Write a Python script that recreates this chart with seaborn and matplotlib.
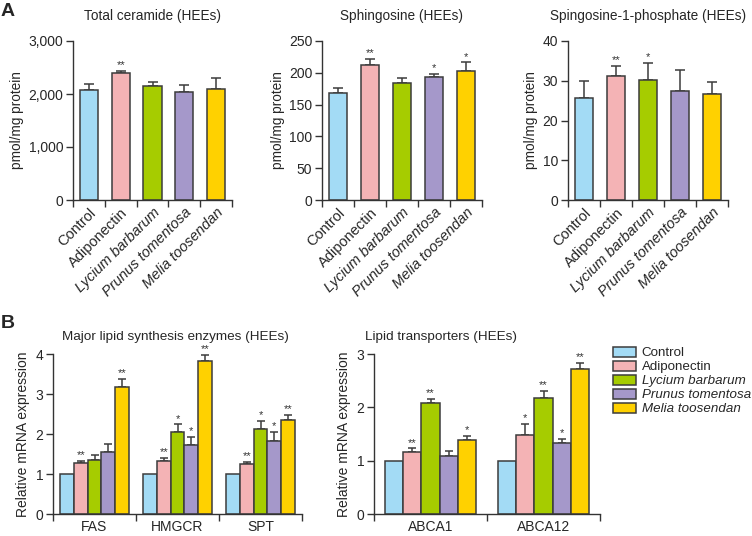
import numpy as np
import pandas as pd
import matplotlib
matplotlib.use('Agg')
import matplotlib.pyplot as plt
import seaborn as sns
from matplotlib.patches import Patch
from matplotlib.container import BarContainer
from matplotlib.ticker import FuncFormatter

groups = ['Control', 'Adiponectin', 'Lycium barbarum', 'Prunus tomentosa', 'Melia toosendan']
colors = ['#a3dbf5', '#f4b3b5', '#a6cc00', '#a598ca', '#ffd100']

# panel A values (pmol/mg protein), error = upper SD bar
ceramide_mean = [2075, 2390, 2145, 2044, 2100]
ceramide_err = [107, 50, 88, 120, 196]
ceramide_sig = ['', '**', '', '', '']

sphingosine_mean = [168.8, 211.7, 184.5, 192.9, 202.3]
sphingosine_err = [7.8, 10.0, 6.8, 5.7, 14.2]
sphingosine_sig = ['', '**', '', '*', '*']

s1p_mean = [25.7, 31.1, 30.2, 27.5, 26.6]
s1p_err = [4.2, 2.7, 4.2, 5.3, 3.2]
s1p_sig = ['', '**', '*', '', '']

# panel B values (relative mRNA), rows = groups, cols = genes
enz_genes = ['FAS', 'HMGCR', 'SPT']
enz_mean = [[1.0, 1.0, 1.0],
            [1.28, 1.32, 1.24],
            [1.34, 2.04, 2.12],
            [1.56, 1.72, 1.82],
            [3.18, 3.83, 2.34]]
enz_err = [[0, 0, 0],
           [0.05, 0.09, 0.07],
           [0.13, 0.20, 0.21],
           [0.20, 0.20, 0.23],
           [0.20, 0.15, 0.14]]
enz_sig = [['', '', ''],
           ['**', '**', '**'],
           ['', '*', '*'],
           ['', '*', '*'],
           ['**', '**', '**']]

tr_genes = ['ABCA1', 'ABCA12']
tr_mean = [[1.0, 1.0],
           [1.17, 1.49],
           [2.08, 2.18],
           [1.09, 1.33],
           [1.38, 2.72]]
tr_err = [[0, 0],
          [0.06, 0.20],
          [0.08, 0.13],
          [0.10, 0.08],
          [0.08, 0.12]]
tr_sig = [['', ''],
          ['**', '*'],
          ['**', '**'],
          ['', '*'],
          ['*', '**']]

sns.set_style('white')
plt.rcParams['font.family'] = ['Liberation Sans', 'DejaVu Sans']
plt.rcParams['axes.edgecolor'] = '#333333'
plt.rcParams['axes.linewidth'] = 1.0

W, H = 752, 536
fig = plt.figure(figsize=(W / 100, H / 100), dpi=100)

def px_axes(x0, y_top, x1, y_bot):
    return fig.add_axes([x0 / W, 1 - y_bot / H, (x1 - x0) / W, (y_bot - y_top) / H])

EDGE = '#3c3c3c'

def style_axis(ax, ymax, ystep, fmt=None):
    sns.despine(ax=ax)
    ax.set_ylim(0, ymax)
    ax.set_yticks(np.arange(0, ymax + ystep / 2, ystep))
    if fmt is not None:
        ax.yaxis.set_major_formatter(fmt)
    ax.tick_params(axis='y', which='major', length=5, width=1, direction='out',
                   color='#333333', labelsize=10, pad=2, left=True)
    ax.tick_params(axis='x', which='major', length=0, pad=4)
    ax.tick_params(axis='x', which='minor', length=5, width=1, direction='out',
                   color='#333333', bottom=True)
    ax.set_xlabel('')

def add_errs(ax, xs, tops, errs, sigs, capw):
    for x, t, e, s in zip(xs, tops, errs, sigs):
        if e > 0:
            ax.errorbar(x, t, yerr=[[0], [e]], fmt='none', ecolor=EDGE,
                        elinewidth=1.1, capsize=capw, capthick=1.1, zorder=1)
        if s:
            ax.annotate(s, (x, t + e), xytext=(0, 0.5), textcoords='offset points',
                        ha='center', va='bottom', fontsize=8, color='#333333')

def panel_a(x0, x1, title, mean, err, sig, ymax, ystep, fmt=None):
    ax = px_axes(x0, 41, x1, 200)
    df = pd.DataFrame({'group': groups, 'value': mean})
    sns.barplot(data=df, x='group', y='value', hue='group', palette=colors,
                saturation=1, width=0.57, edgecolor=EDGE, linewidth=1.1,
                legend=False, ax=ax, zorder=2)
    ax.set_xlim(-0.5, 4.5)
    style_axis(ax, ymax, ystep, fmt)
    ax.set_xticks(np.arange(-0.5, 5, 1), minor=True)
    ax.set_xticks(range(5))
    ax.set_xticklabels(groups, rotation=45, ha='right', rotation_mode='anchor', fontsize=10.5)
    for lab in ax.get_xticklabels()[2:]:
        lab.set_style('italic')
    ax.set_ylabel('pmol/mg protein', fontsize=9.8, labelpad=3)
    add_errs(ax, range(5), mean, err, sig, 3.3)
    fig.text((x0 + x1) / 2 / W, 1 - 16 / H, title, ha='center', va='center', fontsize=9.8)
    return ax

comma = FuncFormatter(lambda v, p: f'{int(v):,}')
panel_a(73, 232, 'Total ceramide (HEEs)', ceramide_mean, ceramide_err, ceramide_sig, 3000, 1000, comma)
panel_a(322, 482, 'Sphingosine (HEEs)', sphingosine_mean, sphingosine_err, sphingosine_sig, 250, 50)
panel_a(568, 728, 'Spingosine-1-phosphate (HEEs)', s1p_mean, s1p_err, s1p_sig, 40, 10)

def panel_b(x0, x1, genes, mean, err, sig, ymax, width):
    ax = px_axes(x0, 354, x1, 514)
    rows = []
    for gi, g in enumerate(groups):
        for ci, gene in enumerate(genes):
            rows.append({'gene': gene, 'group': g, 'value': mean[gi][ci]})
    df = pd.DataFrame(rows)
    sns.barplot(data=df, x='gene', y='value', hue='group', hue_order=groups,
                palette=colors, saturation=1, width=width, edgecolor=EDGE,
                linewidth=1.1, ax=ax, zorder=2)
    ax.get_legend().remove()
    n = len(genes)
    ax.set_xlim(-0.5, n - 0.5)
    style_axis(ax, ymax, 1)
    ax.set_xticks(np.arange(-0.5, n, 1), minor=True)
    ax.set_xticks(range(n))
    ax.set_xticklabels(genes, fontsize=10)
    ax.set_ylabel('Relative mRNA expression', fontsize=10, labelpad=4)
    bars = [c for c in ax.containers if isinstance(c, BarContainer)]
    for gi, cont in enumerate(bars):
        xs = [b.get_x() + b.get_width() / 2 for b in cont]
        add_errs(ax, xs, mean[gi], err[gi], sig[gi], 2.6)
    return ax

panel_b(53, 302, enz_genes, enz_mean, enz_err, enz_sig, 4, 0.82)
fig.text(175 / W, 1 - 337 / H, 'Major lipid synthesis enzymes (HEEs)', ha='center', va='center', fontsize=9.7)
panel_b(374, 600, tr_genes, tr_mean, tr_err, tr_sig, 3, 0.8)
fig.text(441 / W, 1 - 337 / H, 'Lipid transporters (HEEs)', ha='center', va='center', fontsize=9.7)

handles = [Patch(facecolor=c, edgecolor=EDGE, linewidth=1.1) for c in colors]
leg = fig.legend(handles, groups, loc='upper left', bbox_to_anchor=(613 / W, 1 - 347 / H),
                 frameon=False, fontsize=9.6, handlelength=1.7, handleheight=0.72,
                 labelspacing=0.12, handletextpad=0.45, borderpad=0, borderaxespad=0)
for t in leg.get_texts()[2:]:
    t.set_style('italic')

fig.text(8 / W, 1 - 12 / H, 'A', fontsize=14, fontweight='bold', ha='center', va='center')
fig.text(8 / W, 1 - 323 / H, 'B', fontsize=14, fontweight='bold', ha='center', va='center')

fig.savefig('out.png', dpi=100)
